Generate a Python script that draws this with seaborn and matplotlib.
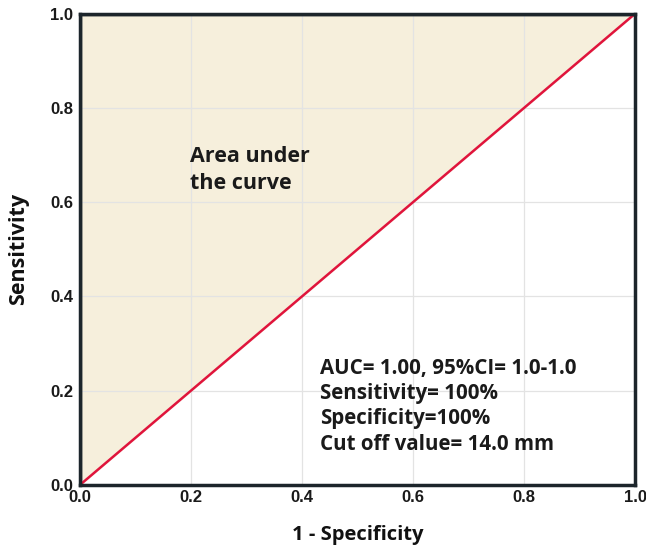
import numpy as np
import pandas as pd
import matplotlib
matplotlib.use('Agg')
import matplotlib.pyplot as plt
import seaborn as sns

# ROC curve points (AUC = 1.00) and the chance diagonal
fpr = [0.0, 0.0, 1.0]
tpr = [0.0, 1.0, 1.0]
ref_x = [0.0, 1.0]
ref_y = [0.0, 1.0]
ticks = [0.0, 0.2, 0.4, 0.6, 0.8, 1.0]
stats_lines = ['AUC= 1.00, 95%CI= 1.0-1.0',
               'Sensitivity= 100%',
               'Specificity=100%',
               'Cut off value= 14.0 mm']

sns.set_theme(style='whitegrid')
plt.rcParams['font.family'] = ['Liberation Sans', 'DejaVu Sans']

fig = plt.figure(figsize=(6.46, 5.49), dpi=100)
ax = fig.add_axes([0.124, 0.117, 0.859, 0.858])

# shaded area between ROC curve and diagonal
ax.fill_between(ref_x, ref_y, [1.0, 1.0], color='#f6efdc', zorder=1)

roc = pd.DataFrame({'fpr': fpr, 'tpr': tpr})
sns.lineplot(data=roc, x='fpr', y='tpr', sort=False, estimator=None,
             color='#1c252b', lw=2.5, ax=ax, zorder=3)
diag = pd.DataFrame({'x': ref_x, 'y': ref_y})
sns.lineplot(data=diag, x='x', y='y', estimator=None, color='#e0143c', lw=1.8, ax=ax, zorder=4)

ax.set_xlim(0, 1)
ax.set_ylim(0, 1)
ax.set_xticks(ticks)
ax.set_yticks(ticks)
ax.set_xticklabels([f'{t:.1f}' for t in ticks], fontsize=12, fontweight='bold', color='#1a1a1a')
ax.set_yticklabels([f'{t:.1f}' for t in ticks], fontsize=12, fontweight='bold', color='#1a1a1a')
ax.tick_params(axis='both', length=0, pad=5)
ax.tick_params(axis='x', pad=4)
ax.grid(True, color='#e3e3e3', lw=0.9)
ax.set_axisbelow(False)
for g in ax.get_xgridlines() + ax.get_ygridlines():
    g.set_zorder(2)
ax.set_facecolor('white')
for side in ['left', 'bottom', 'top', 'right']:
    ax.spines[side].set_color('#1c252b')
    ax.spines[side].set_linewidth(2.5)
    ax.spines[side].set_zorder(5)

ax.set_xlabel('1 - Specificity', fontsize=14.5, fontweight='bold', color='#111111',
              family=['Open Sans', 'DejaVu Sans'], labelpad=14)
ax.set_ylabel('Sensitivity', fontsize=15.5, fontweight='bold', color='#111111',
              family=['Open Sans', 'DejaVu Sans'], labelpad=15)

ax.text(0.198, 0.72, 'Area under\nthe curve', fontsize=15.5, fontweight='bold',
        family=['Open Sans', 'DejaVu Sans'], color='#1a1a1a', va='top', ha='left',
        linespacing=1.4, zorder=6)
ax.text(0.432, 0.27, '\n'.join(stats_lines), fontsize=14.8, fontweight='bold',
        family=['Open Sans', 'DejaVu Sans'], color='#1a1a1a', va='top', ha='left',
        linespacing=1.27, zorder=6)

fig.savefig('out.png', dpi=100)
